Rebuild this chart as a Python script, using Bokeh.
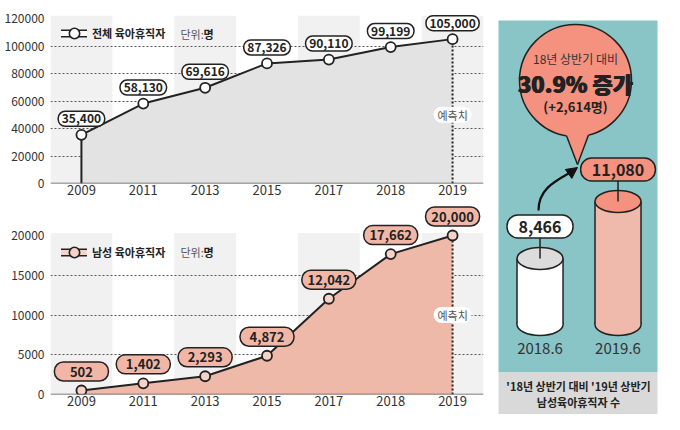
from bokeh.plotting import figure
from bokeh.layouts import row, column
from bokeh.models import (Range1d, FixedTicker, BasicTickFormatter, Span, Legend,
                          LegendItem, Arrow, NormalHead)
from bokeh.core.properties import value
from bokeh.embed import file_html
from bokeh.resources import INLINE

# ---------------- data ----------------
years = ["2009", "2011", "2013", "2015", "2017", "2018", "2019"]
total_leave = [35400, 58130, 69616, 87326, 90110, 99199, 105000]
male_leave = [502, 1402, 2293, 4872, 12042, 17662, 20000]
total_ticks = [0, 20000, 40000, 60000, 80000, 100000, 120000]
male_ticks = [0, 5000, 10000, 15000, 20000]
half_periods = ["2018.6", "2019.6"]
half_values = [8466, 11080]
increase_pct = "30.9%"
increase_abs = 2614

FONT = "Noto Sans CJK KR"
DARK = "#222222"
TEXT = "#333333"
BAND = "#f2f1f1"
GRAY_AREA = "#e3e3e3"
SALMON_AREA = "#efb9aa"
SALMON_PILL = "#f2b6a6"
SALMON_DOT = "#f6d2c8"
TEAL = "#89c4c6"
BUBBLE = "#f4917f"
BOX = "#d9d9d9"


def text_px(label, fs):
    """Rough rendered width (px) of a bold numeric label."""
    return sum(0.27 * fs if ch == "," else 0.555 * fs for ch in label)


def add_pills(p, xs, ys, labels, fs, pad, min_w, h_px, off_px, x_ppu, y_upp, fill, radius,
              **rkw):
    """Capsule-shaped value labels: rounded hbar + text, floated off_px above (x, y)."""
    centers = [y + off_px * y_upp for y in ys]
    half = [max(text_px(t, fs) / 2 + pad, min_w / 2) / x_ppu for t in labels]
    p.hbar(y=centers, height=h_px * y_upp, left=[x - h for x, h in zip(xs, half)],
           right=[x + h for x, h in zip(xs, half)], fill_color=fill, line_color=DARK,
           line_width=1.5, border_radius=radius, **rkw)
    p.text(x=xs, y=centers, text=labels, text_align="center",
           text_baseline="middle", text_font=value(FONT), text_font_style="bold",
           text_font_size=f"{fs}px", text_color=DARK, **rkw)


def line_chart(values, yticks, grid_ticks, y_end, band_top, height, border_bottom,
               frame_h, area_fill, dot_fill, pill_fill, pill_fs, pill_pad, pill_min_w,
               pill_h, pill_radius, pill_off, legend_text, legend_y, unit_y, forecast_y):
    idx = list(range(len(years)))
    p = figure(width=490, height=height, x_range=Range1d(-0.5, 6.5),
               y_range=Range1d(0, y_end), output_backend="svg", toolbar_location=None,
               min_border_left=50, min_border_right=7, min_border_top=0,
               min_border_bottom=border_bottom)
    p.outline_line_color = None
    p.background_fill_color = "white"
    p.border_fill_color = "white"
    x_ppu = 433 / 7.0
    y_upp = y_end / frame_h

    # alternating bands
    even = [i for i in idx if i % 2 == 0]
    p.quad(left=[i - 0.5 for i in even], right=[i + 0.5 for i in even],
           bottom=0, top=band_top, fill_color=BAND, line_color=None, level="image")

    # axes
    p.xaxis.ticker = FixedTicker(ticks=idx)
    p.xaxis.major_label_overrides = {i: y for i, y in enumerate(years)}
    p.yaxis.ticker = FixedTicker(ticks=yticks)
    p.yaxis.formatter = BasicTickFormatter(use_scientific=False)
    for ax in (p.xaxis, p.yaxis):
        ax.axis_line_color = None
        ax.major_tick_line_color = None
        ax.minor_tick_line_color = None
        ax.major_tick_out = 0
        ax.major_tick_in = 0
        ax.minor_tick_out = 0
        ax.major_label_text_font = FONT
        ax.major_label_text_color = TEXT
    p.xaxis.major_label_text_font_size = "13px"
    p.xaxis.major_label_standoff = 1
    p.yaxis.major_label_text_font_size = "12px"
    p.yaxis.major_label_standoff = 6

    p.xgrid.visible = False
    p.ygrid.ticker = FixedTicker(ticks=grid_ticks)
    p.ygrid.grid_line_color = "#555555"
    p.ygrid.grid_line_dash = "2 2"
    p.ygrid.grid_line_width = 1

    # area and lines
    p.varea(x=idx, y1=0, y2=values, fill_color=area_fill)
    p.add_layout(Span(location=0, dimension="width", line_color="#555555", line_width=1.5))
    p.segment(x0=[idx[0]], y0=[0], x1=[idx[0]], y1=[values[0]], line_color=DARK, line_width=2)
    p.segment(x0=[idx[-1]], y0=[0], x1=[idx[-1]], y1=[values[-1]], line_color=DARK,
              line_width=2, line_dash="2 2")
    p.line(idx, values, line_color=DARK, line_width=2)
    p.scatter(idx, values, size=10, fill_color=dot_fill, line_color=DARK, line_width=1.8)

    # value pills
    add_pills(p, idx, values, [f"{v:,}" for v in values], pill_fs, pill_pad, pill_min_w,
              pill_h, pill_off, x_ppu, y_upp, pill_fill, pill_radius)

    # forecast label
    p.hbar(y=[forecast_y], height=16 * y_upp, left=[idx[-1] - 19 / x_ppu],
           right=[idx[-1] + 19 / x_ppu], fill_color="white", line_color=None,
           border_radius=8)
    p.text(x=[idx[-1]], y=[forecast_y], text=["예측치"], text_align="center",
           text_baseline="middle", text_font=value(FONT), text_font_size="11px",
           text_color="#555555")

    # legend (dummy renderers sit outside the visible range)
    cap_outer = p.line(x=[-5, -4], y=[0, 0], line_color=DARK, line_width=8, line_cap="round")
    cap_inner = p.line(x=[-5, -4], y=[0, 0], line_color=dot_fill, line_width=5, line_cap="round")
    dot = p.scatter(x=[-5], y=[0], fill_color=dot_fill, line_color=DARK, line_width=1.6)
    legend = Legend(items=[LegendItem(label=legend_text, renderers=[cap_outer, cap_inner, dot])],
                    location=(11, legend_y), glyph_width=26, glyph_height=28,
                    label_standoff=5, padding=0, spacing=0, margin=0,
                    border_line_color=None, background_fill_alpha=0,
                    label_text_font=FONT, label_text_font_style="bold",
                    label_text_font_size="11px", label_text_color=DARK)
    p.add_layout(legend)
    p.text(x=[1.6], y=[unit_y], text=["단위:"], text_align="left", text_baseline="middle",
           text_font=value(FONT), text_font_size="11px", text_color="#555555")
    p.text(x=[1.6], y=[unit_y], x_offset=23, text=["명"], text_align="left",
           text_baseline="middle", text_font=value(FONT), text_font_style="bold",
           text_font_size="11px", text_color=DARK)
    return p


p1 = line_chart(total_leave, total_ticks, total_ticks[1:-1], 133091, 122000, 205, 22, 183,
                GRAY_AREA, "white", "white", 12, 5, 46, 15, 7, 16,
                "전체 육아휴직자", 136, 109090, 50000)
p2 = line_chart(male_leave, male_ticks, male_ticks[1:-1], 23774, 20300, 209, 20, 189,
                SALMON_AREA, SALMON_DOT, SALMON_PILL, 13, 7, 54, 19, 9, 19,
                "남성 육아휴직자", 128, 17862, 10000)

# ---------------- right panel ----------------
p3 = figure(width=174, height=414, x_range=Range1d(490, 664), y_range=Range1d(414, 0),
            output_backend="svg", toolbar_location=None, x_axis_location=None,
            y_axis_location=None, min_border=0)
p3.outline_line_color = None
p3.xgrid.visible = False
p3.ygrid.visible = False
p3.background_fill_color = "white"
p3.border_fill_color = "white"
VAL_LO, VAL_HI = 1312, 20298
p3.extra_x_ranges = {"idx": Range1d(-0.635, 1.596)}
p3.extra_y_ranges = {"val": Range1d(VAL_LO, VAL_HI)}

p3.quad(left=[498], right=[657], bottom=[372], top=[20], fill_color=TEAL, line_color=None)
p3.quad(left=[498], right=[657], bottom=[414], top=[372], fill_color=BOX, line_color=None)

# bubble
p3.circle(x=[575], y=[80], radius=56, fill_color=BUBBLE, line_color=DARK, line_width=1.5)
p3.patch(x=[564.1, 589.7, 577], y=[130.3, 130, 164], fill_color=BUBBLE, line_color=None)
p3.multi_line(xs=[[566, 577], [588, 577]], ys=[[135.3, 164], [134.5, 164]],
              line_color=DARK, line_width=1.5)
p3.text(x=[575], y=[58], text=["18년 상반기 대비"], text_align="center",
        text_baseline="middle", text_font=value(FONT), text_font_size="12px", text_color=TEXT)
for dx in (-0.5, 0.5, 0):
    p3.text(x=[575], y=[82], x_offset=dx, text=[f"{increase_pct} 증가"], text_align="center",
            text_baseline="middle",
            text_font=value("'Noto Sans CJK KR Black', 'Noto Sans CJK KR'"),
            text_font_style="bold", text_font_size="22px", text_color=DARK)
p3.text(x=[575], y=[106], text=[f"(+{increase_abs:,}명)"], text_align="center",
        text_baseline="middle", text_font=value(FONT), text_font_style="bold",
        text_font_size="13px", text_color=DARK)

# cylinders
CYL_BASE = 5440
cx = [0, 1]
body_fill = ["white", "#efbaab"]
top_fill = ["#dcdcdc", BUBBLE]
pill_fill = ["white", BUBBLE]
w = 0.59
val_upp = (VAL_HI - VAL_LO) / 414.0
p3.ellipse(x=cx, y=[CYL_BASE] * 2, width=46, height=22, width_units="screen",
           height_units="screen", fill_color=body_fill, line_color=DARK, line_width=1.5,
           x_range_name="idx", y_range_name="val")
p3.vbar(x=cx, bottom=CYL_BASE, top=half_values, width=w, fill_color=body_fill,
        line_color=None, x_range_name="idx", y_range_name="val")
p3.segment(x0=[c - w / 2 for c in cx] + [c + w / 2 for c in cx], y0=[CYL_BASE] * 4,
           x1=[c - w / 2 for c in cx] + [c + w / 2 for c in cx], y1=half_values * 2,
           line_color=DARK, line_width=1.5, x_range_name="idx", y_range_name="val")
p3.ellipse(x=cx, y=half_values, width=46, height=22, width_units="screen",
           height_units="screen", fill_color=top_fill, line_color=DARK, line_width=1.5,
           x_range_name="idx", y_range_name="val")
p3.segment(x0=cx, y0=half_values, x1=cx, y1=[v + 22 * val_upp for v in half_values],
           line_color=DARK, line_width=1.5, x_range_name="idx", y_range_name="val")
add_pills(p3, cx, half_values, [f"{v:,}" for v in half_values], 16, 13, 66, 23, 32, 78.0,
          val_upp, pill_fill, 11, x_range_name="idx", y_range_name="val")
p3.text(x=cx, y=[348, 348], text=half_periods, text_align="center", text_baseline="middle",
        text_font=value(FONT), text_font_size="15px", text_color=TEXT, x_range_name="idx")

# arrow
p3.bezier(x0=[538], y0=[210], x1=[568], y1=[173], cx0=[538], cy0=[190], cx1=[552], cy1=[182],
          line_color="#111111", line_width=2.2)
p3.add_layout(Arrow(end=NormalHead(size=11, fill_color="#111111", line_color="#111111"),
                    x_start=568, y_start=173.5, x_end=577, y_end=167, line_alpha=0))

p3.text(x=[578], y=[385], text=["'18년 상반기 대비 '19년 상반기"], text_align="center",
        text_baseline="middle", text_font=value(FONT), text_font_style="bold",
        text_font_size="11px", text_color=DARK)
p3.text(x=[578], y=[401], text=["남성육아휴직자 수"], text_align="center",
        text_baseline="middle", text_font=value(FONT), text_font_style="bold",
        text_font_size="11px", text_color=DARK)

layout = row(column(p1, p2), p3)
open("out.html", "w").write(file_html(layout, INLINE))
